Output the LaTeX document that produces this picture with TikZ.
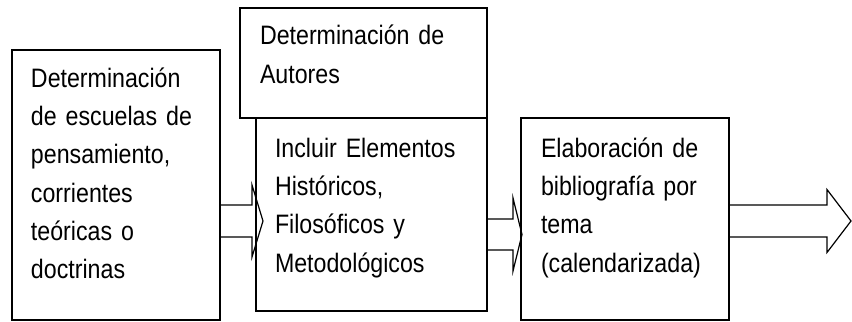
\documentclass[tikz,border=0pt]{standalone}
\usepackage{fontspec}
\setmainfont[FakeStretch=0.87]{Liberation Sans}
\usepackage{tikz}
\usetikzlibrary{positioning, calc}
\tikzset{
box/.style={draw, rectangle, align=left, inner ysep=0pt, outer sep=0pt, line width=0.9pt, font=\fontsize{20pt}{28.75pt}\selectfont}, % the text boxes
blk/.style n args={3}{line width=0.9pt, to path={let \p1=(\tikztostart), \p2=(\tikztotarget) in
  (\x1,\y1+#1) -- (\x2-#3,\y1+#1) -- (\x2-#3,\y1+#2) -- (\x2,\y1) -- (\x2-#3,\y1-#2) -- (\x2-#3,\y1-#1) -- (\x1,\y1-#1)}}, % open block arrow: shaft, head, head length
}
\begin{document}
\begin{tikzpicture}[x=0.75pt, y=-0.75pt]
\useasboundingbox (0,0) rectangle (852,321);
\node[box, anchor=north west, inner xsep=14.25pt, text width=127.5pt, text height=27.75pt, text depth=174.75pt] (b1) at (12,50)
 {Determinación\\de escuelas de\\pensamiento,\\corrientes\\teóricas o\\doctrinas};
\node[box, below right=51pt and 27pt of b1.north east, inner xsep=14.25pt, text width=144.75pt, text height=29.25pt, text depth=115.5pt] (b3)
 {Incluir Elementos\\Históricos,\\Filosóficos y\\Metodológicos};
\node[box, above=0pt of b3.north west, anchor=south west, xshift=-12pt, inner xsep=15pt, text width=155.25pt, text height=27.75pt, text depth=54.75pt] (b2)
 {Determinación de\\Autores};
\node[box, right=25.5pt of b3.north east, anchor=north west, inner xsep=15pt, text width=126pt, text height=29.25pt, text depth=122.25pt] (b4)
 {Elaboración de\\bibliografía por\\tema\\(calendarizada)};
\coordinate (out) at (851,221);
\draw[blk={12pt}{27pt}{8.25pt}] ([yshift=-27pt]b1.east) to ([xshift=5.25pt]b3.west);
\draw[blk={11.6pt}{27.4pt}{6.75pt}] ([yshift=-15pt]b3.east) to ([xshift=0.75pt]b4.west);
\draw[blk={12pt}{23.6pt}{18pt}] ([yshift=-1.5pt]b4.east) to (out);
\end{tikzpicture}
\end{document}
